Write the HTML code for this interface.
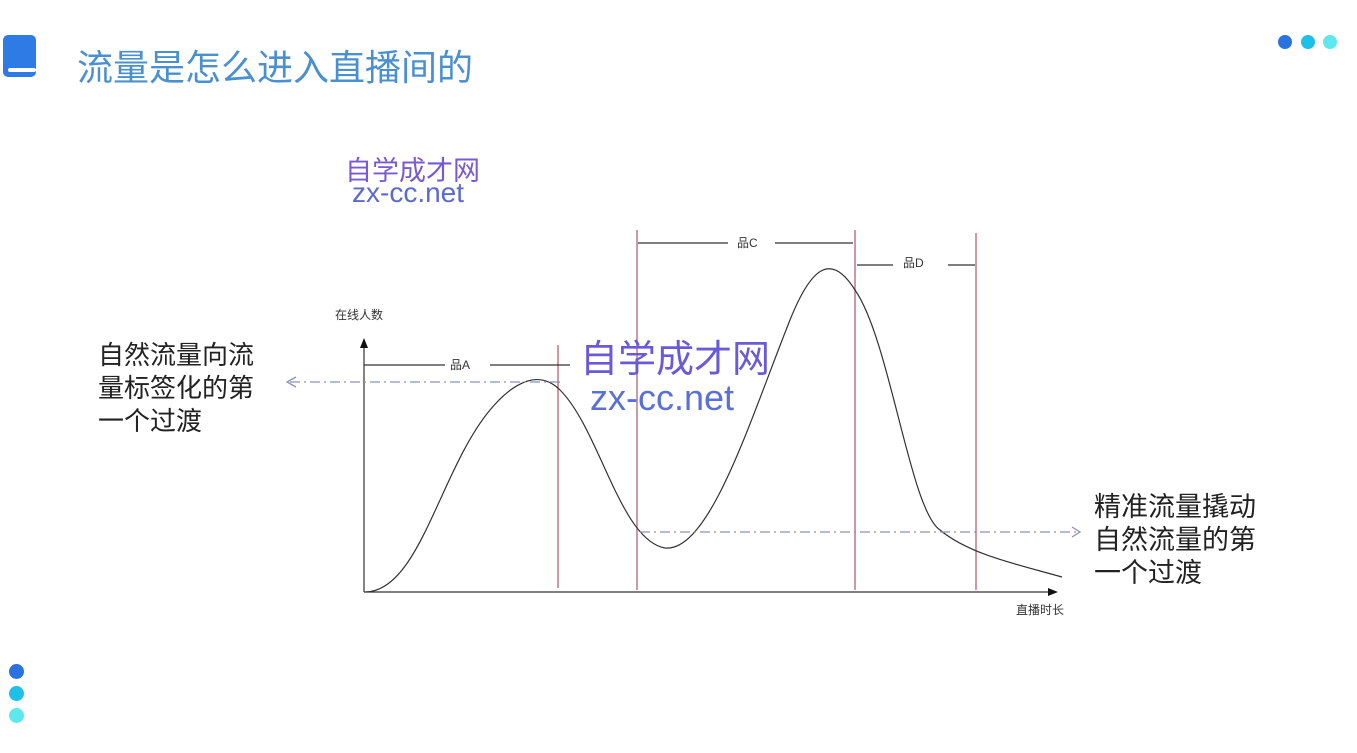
<!DOCTYPE html>
<html><head><meta charset="utf-8"><style>
body{margin:0;width:1357px;height:753px;background:#fff;overflow:hidden;position:relative;font-family:"Liberation Sans","Noto Sans CJK SC",sans-serif}
.t{position:absolute;white-space:nowrap}
</style></head><body>
<div style="position:absolute;left:3px;top:35px;width:33px;height:42px;background:#2f7be6;border-radius:5px"></div>
<div style="position:absolute;left:8px;top:68px;width:28px;height:4px;background:#fff;border-radius:2px"></div>
<div class="t" style="left:77px;top:39px;font-size:36px;color:#4a90d0">流量是怎么进入直播间的</div>
<div style="position:absolute;left:1278px;top:35px;width:14px;height:14px;border-radius:50%;background:#2a72e0"></div>
<div style="position:absolute;left:1301px;top:35px;width:14px;height:14px;border-radius:50%;background:#1fc0e8"></div>
<div style="position:absolute;left:1323px;top:35px;width:14px;height:14px;border-radius:50%;background:#5ee8ee"></div>
<div style="position:absolute;left:9px;top:664px;width:15px;height:15px;border-radius:50%;background:#2a72e0"></div>
<div style="position:absolute;left:9px;top:686px;width:15px;height:15px;border-radius:50%;background:#1fc0e8"></div>
<div style="position:absolute;left:9px;top:708px;width:15px;height:15px;border-radius:50%;background:#5ee8ee"></div>
<div class="t" style="left:345px;top:149px;font-size:27px;color:#7a5ad0">自学成才网</div>
<div class="t" style="left:352px;top:177px;font-size:28px;color:#5a6ad0">zx-cc.net</div>
<div class="t" style="left:98px;top:339px;font-size:26px;line-height:33px;color:#222">自然流量向流<br>量标签化的第<br>一个过渡</div>
<div class="t" style="left:1094px;top:491px;font-size:27px;line-height:33px;color:#222">精准流量撬动<br>自然流量的第<br>一个过渡</div>
<svg width="1357" height="753" style="position:absolute;left:0;top:0" font-family="Liberation Sans,Noto Sans CJK SC,sans-serif">
<g stroke="#c27682" stroke-width="1.5">
<line x1="558" y1="345" x2="558" y2="588"/><line x1="637" y1="230" x2="637" y2="590"/>
<line x1="855" y1="230" x2="855" y2="590"/><line x1="976" y1="233" x2="976" y2="590"/></g>
<g stroke="#333" stroke-width="1.2" fill="none">
<line x1="364" y1="345" x2="364" y2="592"/><line x1="364" y1="592" x2="1050" y2="592"/>
<line x1="364" y1="365" x2="445" y2="365"/><line x1="490" y1="365" x2="570" y2="365"/>
<line x1="638" y1="243" x2="728" y2="243"/><line x1="775" y1="243" x2="853" y2="243"/>
<line x1="857" y1="265" x2="893" y2="265"/><line x1="948" y1="265" x2="975" y2="265"/>
<path d="M366 592 C420 590 440 470 490 410 C515 380 540 370 560 390 C600 430 620 540 665 548 C710 552 750 420 790 320 C810 270 830 250 855 290 C890 340 910 510 940 530 C970 555 1020 565 1062 577"/>
</g>
<polygon points="364,338 360,348 368,348" fill="#111"/>
<polygon points="1058,592 1048,588 1048,596" fill="#111"/>
<g stroke="#8a90b8" stroke-width="1.3" stroke-dasharray="10,4,2,4" fill="none">
<line x1="290" y1="382" x2="560" y2="382"/><line x1="640" y1="532" x2="1078" y2="532"/></g>
<path d="M296 377 L287 382 L296 387 M1072 527 L1080 532 L1072 537" stroke="#8a90b8" fill="none" stroke-width="1.3"/>
<g font-size="12" fill="#333"><text x="335" y="319">在线人数</text><text x="450" y="369">品A</text>
<text x="737" y="247">品C</text><text x="903" y="267">品D</text><text x="1016" y="614">直播时长</text></g>
<text x="580" y="372" font-size="38" fill="#6a5ad8">自学成才网</text>
<text x="590" y="410" font-size="36" fill="#5a70d8">zx-cc.net</text>
</svg>
</body></html>
